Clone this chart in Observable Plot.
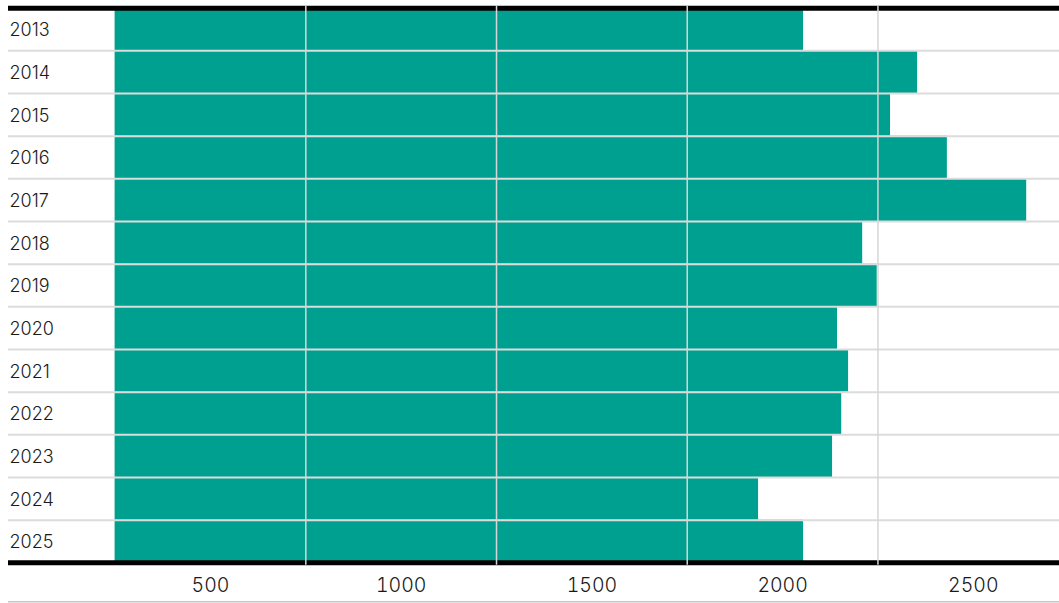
<!DOCTYPE html>
<html><head><meta charset="utf-8">
<script src="https://cdn.jsdelivr.net/npm/d3@7"></script>
<script src="https://cdn.jsdelivr.net/npm/@observablehq/plot@0.6"></script>
<style>
html,body{margin:0;padding:0;background:#fff;overflow:hidden;}
#chart svg{display:block;}
</style></head><body><div id="chart"></div>
<script>
const years = [2013, 2014, 2015, 2016, 2017, 2018, 2019, 2020, 2021, 2022, 2023, 2024, 2025];
const values = [1805, 2104, 2033, 2182, 2390, 1960, 1998, 1894, 1923, 1905, 1881, 1687, 1805];
const xTicks = [500, 1000, 1500, 2000, 2500];

const data = years.map((year, i) => ({year, value: values[i]}));
const boundaries = years.slice(1).map(y => y - 0.5);
const edges = [years[0] - 0.5, years[years.length - 1] + 0.5];

const chart = Plot.plot({
  width: 1059, height: 603,
  marginLeft: 114.6, marginRight: 0, marginTop: 7.67, marginBottom: 40.67,
  style: {fontFamily: "Inter, sans-serif", background: "#fff"},
  x: {domain: [0, 2476], axis: null},
  y: {domain: edges, reverse: true, axis: null},
  marks: [
    Plot.rectX(data, {x1: 0, x2: "value", y1: d => d.year - 0.5, y2: d => d.year + 0.5, fill: "#00a091"}),
    Plot.ruleY(boundaries, {stroke: "#dcdcdc", strokeWidth: 2, insetLeft: -106.6}),
    Plot.ruleY(edges, {stroke: "#000", strokeWidth: 5, insetLeft: -106.6}),
    Plot.ruleX(xTicks, {stroke: "#d6d6d6", strokeWidth: 1.5, insetTop: -2.5, insetBottom: -2.5}),
    Plot.ruleY([edges[1]], {dy: 39, stroke: "#aaa", strokeWidth: 1, insetLeft: -106.6}),
    Plot.text(years, {y: d => d, text: d => String(d), frameAnchor: "left", textAnchor: "start", dx: -105.6, dy: 1, fontSize: 18, fontWeight: 300, fill: "#1a1a1a"}),
    Plot.axisX({ticks: xTicks, tickSize: 0, tickPadding: 15.5, dx: -95.33, fontSize: 19.5, fontWeight: 300, tickFormat: "d", fill: "#1a1a1a", label: null})
  ]
});
document.getElementById("chart").append(chart);
</script></body></html>
